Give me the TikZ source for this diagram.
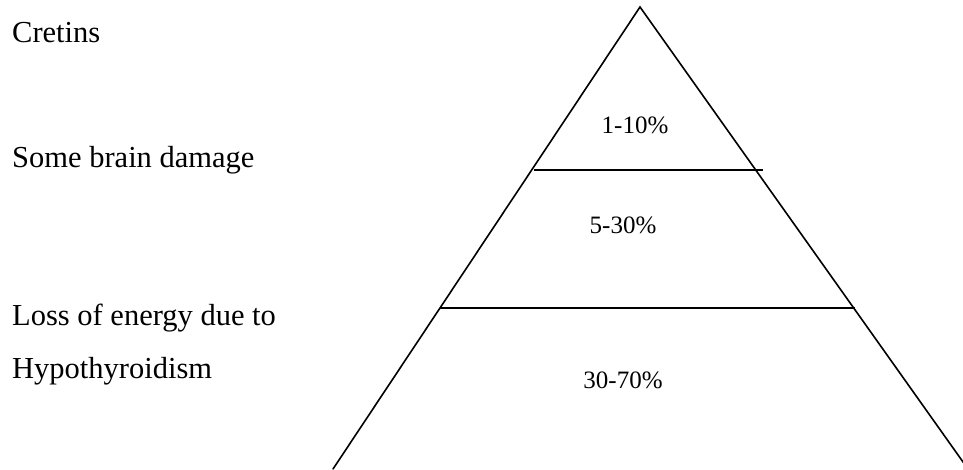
\documentclass[tikz,border=0pt]{standalone}
\usepackage{fontspec}
\setmainfont{Liberation Serif}
\usetikzlibrary{positioning, calc}
\tikzset{
    pyr_edge/.style={
        draw=black,
        line width=1.6pt,
        line cap=round
    },
    pyr_level/.style={
        draw=black,
        line width=1.5pt
    },
    pyr_label/.style={
        anchor=base west,
        inner sep=0pt,
        font=\fontsize{30.5}{35}\selectfont
    },
    pyr_share/.style={
        anchor=base,
        inner sep=0pt,
        font=\fontsize{25}{30}\selectfont
    }
}

\begin{document}
\begin{tikzpicture}[x=1pt, y=-1pt]
\useasboundingbox (0,0) rectangle (963,469);
\clip (0,0) rectangle (963,469);

% --- Pyramid ---
\coordinate (Apex) at (640,7);
\coordinate (BaseL) at (333,469);
\coordinate (BaseR) at (968,469);
\draw[pyr_edge] (BaseL) -- (Apex) -- (BaseR);

% --- Levels ---
\coordinate (TopL) at (534,170);
\coordinate (TopR) at (763,170);
\coordinate (MidL) at (440,308);
\coordinate (MidR) at (855,308);
\draw[pyr_level] (TopL) -- (TopR);
\draw[pyr_level] (MidL) -- (MidR);

% --- Shares ---
\node[pyr_share] (shareTop) at (635,133) {1-10\%};
\node[pyr_share] (shareMid) at (623,233) {5-30\%};
\node[pyr_share] (shareLow) at (623,388) {30-70\%};

% --- Left labels ---
\node[pyr_label] (cretins) at (12,42) {Cretins};
\node[pyr_label] (brain) at (12,167) {Some brain damage};
\node[pyr_label] (energy) at (12,325) {Loss of energy due to};
\node[pyr_label] (hypo) at (12,378) {Hypothyroidism};

\end{tikzpicture}
\end{document}
